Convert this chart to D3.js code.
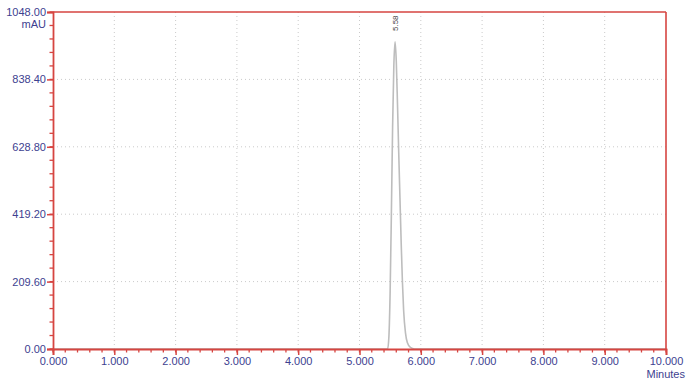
<!DOCTYPE html>
<html>
<head>
<meta charset="utf-8">
<script src="https://cdn.jsdelivr.net/npm/d3@7"></script>
<style>
  body { margin: 0; background: #fff; }
  text { font-family: "Liberation Sans", Arial, sans-serif; }
</style>
</head>
<body>
<svg id="chart" width="687" height="382"></svg>
<script>
// chromatogram trace (minutes, mAU)
var times = [0, 5.40, 5.46, 5.48, 5.50, 5.52, 5.54, 5.56, 5.58, 5.60, 5.62, 5.64, 5.66, 5.68, 5.70, 5.72, 5.75, 5.78, 5.83, 5.90, 10];
var signal = [0, 0, 1, 40, 180, 420, 690, 880, 955, 895, 760, 610, 470, 330, 210, 120, 50, 20, 5, 0, 0];
var yTicks = [0, 209.6, 419.2, 628.8, 838.4, 1048];
var xTicks = [0, 1, 2, 3, 4, 5, 6, 7, 8, 9, 10];
var peakTime = 5.58, peakLabel = "5.58";

var svg = d3.select("#chart"),
    margin = {top: 12, right: 21, bottom: 33, left: 53},
    width = 687 - margin.left - margin.right,
    height = 382 - margin.top - margin.bottom,
    g = svg.append("g").attr("transform", "translate(" + margin.left + "," + margin.top + ")");

var x = d3.scaleLinear().domain([0, 10]).range([0, width]),
    y = d3.scaleLinear().domain([0, 1048]).range([height, 0]);

var red = "#d64541", blue = "#3d4190";

// grid
g.append("g").selectAll("line").data(xTicks.slice(1, -1)).enter().append("line")
  .attr("x1", d => x(d)).attr("x2", d => x(d)).attr("y1", 0).attr("y2", height)
  .attr("stroke", "#cacaca").attr("stroke-dasharray", "1,3");
g.append("g").selectAll("line").data(yTicks.slice(1, -1)).enter().append("line")
  .attr("y1", d => y(d)).attr("y2", d => y(d)).attr("x1", 0).attr("x2", width)
  .attr("stroke", "#cacaca").attr("stroke-dasharray", "1,3");

// trace
var line = d3.line().x(d => x(d[0])).y(d => y(d[1])).curve(d3.curveMonotoneX);
g.append("path").datum(times.map((t, i) => [t, signal[i]]))
  .attr("d", line).attr("fill", "none").attr("stroke", "#bdbdbd").attr("stroke-width", 1.6);

// minor ticks
var xMinor = d3.range(0, 10.001, 0.2), yMinor = d3.range(0, 1048.1, 1048 / 25);
g.append("g").selectAll("line").data(xMinor).enter().append("line")
  .attr("x1", d => x(d)).attr("x2", d => x(d)).attr("y1", height).attr("y2", height + 3.5)
  .attr("stroke", red).attr("stroke-width", 1.3);
g.append("g").selectAll("line").data(yMinor).enter().append("line")
  .attr("y1", d => y(d)).attr("y2", d => y(d)).attr("x1", 0).attr("x2", -3.5)
  .attr("stroke", red).attr("stroke-width", 1.3);

// axes
var xAxis = g.append("g").attr("transform", "translate(0," + height + ")")
  .call(d3.axisBottom(x).tickValues(xTicks).tickFormat(d3.format(".3f")).tickSize(6).tickPadding(2));
var yAxis = g.append("g")
  .call(d3.axisLeft(y).tickValues(yTicks).tickFormat(d3.format(".2f")).tickSize(6).tickPadding(1));
[xAxis, yAxis].forEach(function(a) {
  a.select(".domain").attr("stroke", red).attr("stroke-width", 1.8);
  a.selectAll(".tick line").attr("stroke", red).attr("stroke-width", 1.5);
  a.selectAll(".tick text").attr("fill", blue).attr("font-size", 11)
    .style("font-family", '"Liberation Sans", Arial, sans-serif');
});

// frame top / right
g.append("line").attr("x1", 0).attr("x2", width).attr("y1", 0).attr("y2", 0)
  .attr("stroke", red).attr("stroke-width", 1.6);
g.append("line").attr("x1", width).attr("x2", width).attr("y1", 0).attr("y2", height)
  .attr("stroke", red).attr("stroke-width", 1.6);

// units
g.append("text").attr("x", -7).attr("y", 16).attr("text-anchor", "end")
  .attr("fill", blue).attr("font-size", 11).text("mAU");
g.append("text").attr("x", width + 19).attr("y", height + 29).attr("text-anchor", "end")
  .attr("fill", blue).attr("font-size", 11).text("Minutes");

// peak label
g.append("text").attr("transform", "translate(" + (x(peakTime) + 3) + "," + 19 + ") rotate(-90)")
  .attr("fill", "#444").attr("font-size", 8).text(peakLabel);
</script>
</body>
</html>
